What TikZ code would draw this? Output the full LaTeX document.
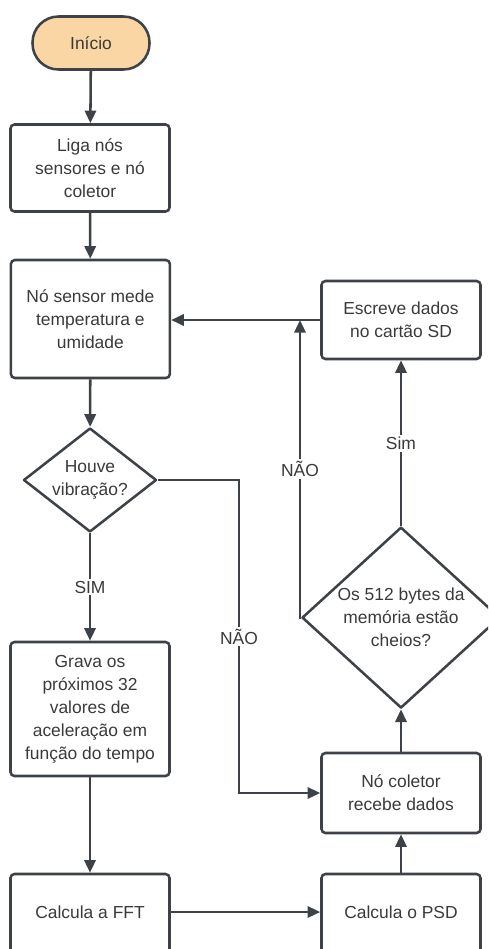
\documentclass[tikz,border=0pt]{standalone}
\usepackage{fontspec}
\setmainfont{Liberation Sans}
\usepackage{tikz}
\usepackage{xcolor}
\usetikzlibrary{arrows.meta,positioning,shapes.geometric}
\definecolor{linegray}{RGB}{61,66,72}
\definecolor{textgray}{RGB}{58,58,58}
\definecolor{startfill}{RGB}{250,214,164}

\begin{document}
\begin{tikzpicture}[
  box/.style={draw=linegray, line width=1.8pt, rounded corners=0.1cm,
              minimum width=3.975cm, align=center, text=textgray,
              font=\fontsize{12.4}{16.3}\selectfont, inner sep=0pt},
  startbox/.style={box, fill=startfill, rounded corners=0.65cm,
                   minimum width=2.925cm, minimum height=1.325cm},
  decision/.style={diamond, draw=linegray, line width=1.8pt,
                   line join=round, inner sep=0pt},
  dtext/.style={align=center, text=textgray, inner sep=0pt,
                font=\fontsize{12.4}{16.3}\selectfont},
  flow/.style={draw=linegray, line width=1.8pt,
               -{Triangle[length=9pt,width=8pt]}},
  lbl/.style={fill=white, text=textgray, inner sep=1.5pt,
              font=\fontsize{12.4}{16.3}\selectfont},
]
\clip (0,0) rectangle (12.2,-23.725);

% Left column
\node[startbox] (inicio) at (2.275,-1.075) {Início};
\node[box, minimum height=2.175cm] (liga) at (2.25,-4.2)
  {Liga nós\\sensores e nó\\coletor};
\node[box, minimum height=2.95cm] (sensor) at (2.26,-7.975)
  {Nó sensor mede\\temperatura e\\umidade};
\node[decision, minimum width=3.325cm, minimum height=2.6cm] (houve)
  at (2.25,-12.0) {};
\node[dtext] (houvetxt) at (houve.center) {Houve\\vibração?};
\node[box, minimum height=3.35cm] (grava) at (2.25,-17.725)
  {Grava os\\próximos 32\\valores de\\aceleração em\\função do tempo};
\node[box, minimum height=2.2cm] (fft) at (2.25,-22.95) {};
\node[dtext] (ffttxt) at (2.25,-22.8) {Calcula a FFT};

% Right column
\node[box, minimum height=2.2cm] (psd) at (10.025,-22.95) {};
\node[dtext] (psdtxt) at (10.025,-22.8) {Calcula o PSD};
\node[box, minimum height=2.0cm] (coletor) at (10.025,-19.825)
  {Nó coletor\\recebe dados};
\node[decision, minimum width=4.95cm, minimum height=4.525cm] (memoria)
  at (10.025,-15.44) {};
\node[dtext] (memoriatxt) at (memoria.center)
  {Os 512 bytes da\\memória estão\\cheios?};
\node[box, minimum height=1.95cm] (escreve) at (10.025,-8.0)
  {Escreve dados\\no cartão SD};

% Connectors
\draw[flow] (inicio) -- (liga);
\draw[flow] (liga) -- (sensor);
\draw[flow] (sensor) -- (houve);
\draw[flow] (houve.south) -- node[lbl] {SIM} (grava.north);
\draw[flow] (grava) -- (fft);
\draw[flow] (ffttxt.east -| fft.east) -- (ffttxt.east -| psd.west);
\draw[flow] (psd) -- (coletor);
\draw[flow] (coletor.north) -- (memoria.south);
\draw[flow] (memoria.north) -- node[lbl] {Sim} (escreve.south);
\draw[flow] (escreve.west) -- (escreve.west -| sensor.east);

\coordinate (naoa) at (5.975,-12.0);
\draw[flow] (houve.east) -- (naoa)
  -- node[lbl] {NÃO} (naoa |- coletor.west) -- (coletor.west);

\coordinate (naob) at (7.5,-15.44);
\draw[flow] (memoria.west) -- (naob)
  -- node[lbl] {NÃO} (naob |- escreve.west);

\end{tikzpicture}
\end{document}
